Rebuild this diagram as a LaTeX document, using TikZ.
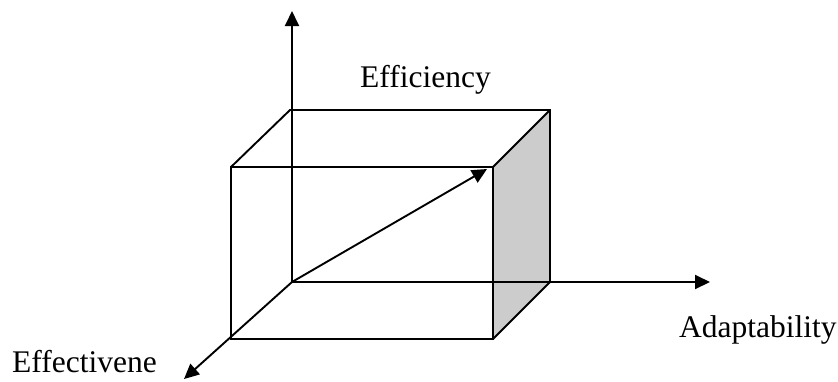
\documentclass[tikz,border=0pt]{standalone}
\usepackage{fontspec}
\setmainfont{Liberation Serif}
\usetikzlibrary{arrows.meta}
\begin{document}
\begin{tikzpicture}[x=1pt,y=-1pt,
  edge/.style={line width=1.9pt,line join=miter},
  axis/.style={line width=1.9pt,-{Triangle[length=15pt,width=14pt]}},
  lbl/.style={anchor=base west,inner sep=0pt,font=\fontsize{31.5}{36}\selectfont}]
\useasboundingbox (0,0) rectangle (838,381);
% corners
\coordinate (O) at (292,282);
\coordinate (BTL) at (290,110);
\coordinate (BTR) at (550,110);
\coordinate (BBR) at (550,282);
\coordinate (FTL) at (231,167);
\coordinate (FTR) at (493,167);
\coordinate (FBL) at (231,339);
\coordinate (FBR) at (493,339);
\coordinate (Ytip) at (292,11);
\coordinate (Xtip) at (710,282);
\coordinate (Ztip) at (184,379);
\coordinate (Dtip) at (487,169);
% shaded side face
\fill[fill={rgb,255:red,204;green,204;blue,204}] (FTR) -- (BTR) -- (BBR) -- (FBR) -- cycle;
% box edges
\draw[edge] (FTL) rectangle (FBR);
\draw[edge] (FTL) -- (BTL) -- (BTR) -- (BBR) -- (FBR);
\draw[edge] (FTR) -- (BTR);
% axes
\draw[axis] (O) -- (Ytip);
\draw[axis] (O) -- (Xtip);
\draw[axis] (O) -- (Ztip);
\draw[axis] (O) -- (Dtip);
% labels
\node[lbl] (eff) at (360,87) {Efficiency};
\node[lbl] (ada) at (679,337) {Adaptability};
\node[lbl] (efv) at (12,372) {Effectivene};
\end{tikzpicture}
\end{document}
